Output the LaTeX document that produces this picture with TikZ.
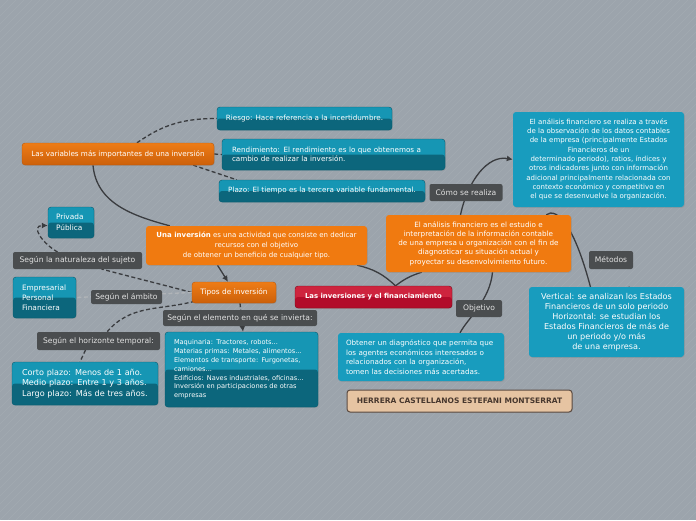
\documentclass[tikz,border=0pt]{standalone}
\usepackage{fontspec}
\setmainfont{DejaVu Sans}
\usepackage{xcolor}
\definecolor{bgcolor}{RGB}{156,164,172}
\definecolor{tealtop}{RGB}{22,150,180}
\definecolor{tealbot}{RGB}{12,102,124}
\definecolor{tealedge}{RGB}{10,88,108}
\definecolor{cyanflat}{RGB}{24,156,190}
\definecolor{orgflat}{RGB}{240,122,16}
\definecolor{orgtop}{RGB}{238,124,22}
\definecolor{orgbot}{RGB}{204,96,10}
\definecolor{orgedge}{RGB}{186,88,10}
\definecolor{redtop}{RGB}{206,36,62}
\definecolor{redbot}{RGB}{178,12,42}
\definecolor{rededge}{RGB}{118,12,28}
\definecolor{lblgray}{RGB}{74,77,79}
\definecolor{lbltext}{RGB}{226,226,226}
\definecolor{linkgray}{RGB}{58,60,63}
\definecolor{linklight}{RGB}{176,180,184}
\definecolor{beige}{RGB}{230,196,162}
\definecolor{beigeedge}{RGB}{92,76,66}
\definecolor{beigetext}{RGB}{72,56,46}
\usepackage{tikz}
\usetikzlibrary{
    arrows.meta,
    positioning,
    calc,
    backgrounds,
    shadows
}
\tikzset{
    box/.style={rounded corners=3pt, inner sep=0pt, align=center,
        text=white, font=\fontsize{7.2}{9}\selectfont,
        drop shadow={shadow xshift=0.8pt, shadow yshift=-0.8pt, opacity=0.3}},
    tealbox/.style={box, draw=tealedge, fill=tealtop,
        path picture={\fill[tealbot] (path picture bounding box.west) rectangle (path picture bounding box.south east);}},
    flatbox/.style={box, fill=cyanflat},
    orgbox/.style={box, draw=orgedge, top color=orgtop, bottom color=orgbot},
    orgplain/.style={box, fill=orgflat},
    redbox/.style={box, draw=rededge, fill=redtop, font=\fontsize{6.9}{9}\selectfont\bfseries,
        path picture={\fill[redbot] (path picture bounding box.west) rectangle (path picture bounding box.south east);}},
    lbl/.style={rounded corners=2pt, inner sep=0pt, fill=lblgray, text=lbltext,
        font=\fontsize{7.6}{9}\selectfont},
    link/.style={draw=linkgray, line width=1.3pt},
    dlink/.style={link, dash pattern=on 4pt off 2.5pt},
    tip/.style={-{Latex[length=6pt,width=6pt]}}
}

\begin{document}
\begin{tikzpicture}[x=1pt,y=1pt]
    \useasboundingbox (0,0) rectangle (696,-520);

    \node[orgbox, minimum width=192, minimum height=22] (variables) at (118,-154) {Las variables más importantes de una inversión};
    \node[tealbox, minimum width=175, minimum height=23] (riesgo) at (304.5,-118.5) {Riesgo: Hace referencia a la incertidumbre.};
    \node[tealbox, text width=203, inner xsep=10, minimum height=31, align=left] (rendimiento) at (333.5,-154.5) {Rendimiento: El rendimiento es lo que obtenemos a\\cambio de realizar la inversión.};
    \node[tealbox, minimum width=206, minimum height=22] (plazo) at (322,-191) {Plazo: El tiempo es la tercera variable fundamental.};

    \node[flatbox, minimum width=171, minimum height=95, font=\fontsize{7}{9.3}\selectfont] (descripcion) at (598.5,-159.5) {El análisis financiero se realiza a través\\de la observación de los datos contables\\de la empresa (principalmente Estados\\Financieros de un\\determinado periodo), ratios, índices y\\otros indicadores junto con información\\adicional principalmente relacionada con\\contexto económico y competitivo en\\el que se desenvuelve la organización.};

    \node[tealbox, text width=30, inner xsep=8, minimum height=31, align=left, font=\fontsize{7.4}{11}\selectfont] (privada) at (71,-222.5) {Privada\\Pública};
    \node[orgplain, minimum width=221, minimum height=39, font=\fontsize{7}{10}\selectfont] (inversion) at (256.5,-245.5) {\textbf{Una inversión} es una actividad que consiste en dedicar\\recursos con el objetivo\\de obtener un beneficio de cualquier tipo.};
    \node[orgplain, minimum width=185, minimum height=57, font=\fontsize{7.2}{9.3}\selectfont] (analisis) at (478.5,-243.5) {El análisis financiero es el estudio e\\interpretación de la información contable\\de una empresa u organización con el fin de\\diagnosticar su situación actual y\\proyectar su desenvolvimiento futuro.};

    \node[tealbox, text width=45, inner xsep=9, minimum height=41, align=left, font=\fontsize{7.4}{10}\selectfont] (ambitos) at (44.5,-297.5) {Empresarial\\Personal\\Financiera};
    \node[orgbox, minimum width=84, minimum height=21, font=\fontsize{7.4}{9}\selectfont] (tipos) at (234,-292.5) {Tipos de inversión};
    \node[redbox, minimum width=157, minimum height=22] (central) at (373.5,-297) {Las inversiones y el financiamiento};
    \node[flatbox, minimum width=155, minimum height=70, font=\fontsize{8.1}{10}\selectfont] (metodos) at (606.5,-322) {Vertical: se analizan los Estados\\Financieros de un solo periodo\\Horizontal: se estudian los\\Estados Financieros de más de\\un periodo y/o más\\de una empresa.};

    \node[tealbox, text width=135, inner xsep=9, minimum height=75, align=left, font=\fontsize{6.6}{8.8}\selectfont] (elementos) at (241.5,-369.5) {Maquinaria: Tractores, robots...\\Materias primas: Metales, alimentos...\\Elementos de transporte: Furgonetas,\\camiones...\\Edificios: Naves industriales, oficinas...\\Inversión en participaciones de otras\\empresas};
    \node[flatbox, text width=150, inner xsep=8, minimum height=48, align=left, font=\fontsize{7.2}{9.5}\selectfont] (objetivo) at (421,-357) {Obtener un diagnóstico que permita que\\los agentes económicos interesados o\\relacionados con la organización,\\tomen las decisiones más acertadas.};
    \node[tealbox, text width=126, inner xsep=10, minimum height=43, align=left, font=\fontsize{8.1}{10.5}\selectfont] (horizontes) at (85,-383.5) {Corto plazo: Menos de 1 año.\\Medio plazo: Entre 1 y 3 años.\\Largo plazo: Más de tres años.};

    \node[box, draw=beigeedge, line width=1pt, fill=beige, text=beigetext, minimum width=225, minimum height=22, font=\fontsize{7.5}{9}\selectfont\bfseries] (autora) at (459.5,-401) {HERRERA CASTELLANOS ESTEFANI MONTSERRAT};

    \begin{scope}[on background layer]
        \fill[bgcolor] (0,0) rectangle (696,-520);
        \begin{scope}
            \clip (0,0) rectangle (696,-520);
            \foreach \k in {0,8,...,1216}
                \draw[white, opacity=0.07, line width=0.4pt] (\k-520,-520) -- (\k,0);
        \end{scope}

        \draw[dlink] ($(variables.north)+(19,0)$) to[out=35, in=180] (riesgo.west);
        \draw[dlink] (variables.east) -- (rendimiento.west);
        \draw[dlink] ($(variables.south east)+(-21,0)$) -- ($(plazo.north west)+(18,0)$);
        \draw[link] ($(variables.south)+(-25,0)$) to[out=-85, in=165] ($(inversion.north west)+(24,0)$);

        \draw[link] ($(central.north)+(22,0)$) to[bend right=15] ($(inversion.south east)+(-10,0)$);
        \draw[link] ($(central.north)+(22,0)$) to[bend left=10] ($(analisis.south west)+(36,0)$);
        \draw[link, tip] ($(inversion.south)+(-39,0)$) -- ($(tipos.north)+(-6,0)$);

        \draw[link, tip] ($(analisis.north)+(-18,0)$) .. controls (468,-180) and (488,-155) .. (descripcion.west);
        \draw[link] ($(analisis.north east)+(-25,0)$) .. controls (556,-207) and (578,-222) .. ($(metodos.north)+(-8,-35)$);
        \draw[link] ($(metodos.north)+(13,-18)$) to[bend left=10] ($(metodos.north)+(23,0)$);
        \draw[link] ($(analisis.south)+(14,0)$) .. controls (490,-300) and (468,-318) .. ($(objetivo.north)+(39,0)$);

        \draw[dlink] (tipos.west) to[out=165, in=-15] (101.5,-269);
        \draw[dlink, tip] (57.5,-252) to[out=150, in=180, looseness=1.6] ($(privada.west)+(0,-3)$);
        \draw[dlink, draw=linklight] (tipos.west) -- (ambitos.east);
        \draw[dlink] ($(tipos.south west)+(3,2)$) to[out=195, in=50] (107,-332);
        \draw[dlink] (85.5,-350) -- ($(horizontes.north)+(-5,0)$);
        \draw[dlink, tip] ($(tipos.south)+(6,0)$) -- ($(elementos.north)+(1.5,0)$);
    \end{scope}

    \node[lbl, minimum width=73, minimum height=17] (como) at (466,-192.5) {Cómo se realiza};
    \node[lbl, minimum width=129, minimum height=17] (naturaleza) at (77.5,-260.5) {Según la naturaleza del sujeto};
    \node[lbl, minimum width=44, minimum height=18] (metodo) at (611,-260) {Métodos};
    \node[lbl, minimum width=71, minimum height=14] (ambito) at (126.5,-297) {Según el ámbito};
    \node[lbl, minimum width=46, minimum height=17] (objetivolbl) at (479,-308.5) {Objetivo};
    \node[lbl, minimum width=154, minimum height=16] (elemento) at (240,-318) {Según el elemento en qué se invierta:};
    \node[lbl, minimum width=123, minimum height=18] (horizonte) at (98.5,-341) {Según el horizonte temporal:};
\end{tikzpicture}
\end{document}
